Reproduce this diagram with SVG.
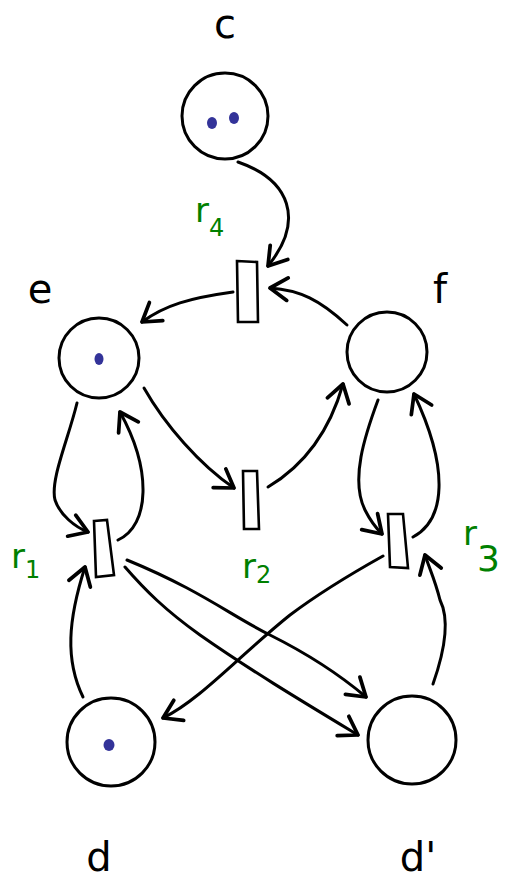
<svg xmlns="http://www.w3.org/2000/svg" width="515" height="879" viewBox="0 0 515 879">
<style>
.place{fill:none;stroke:#000;stroke-width:3}
.trans{fill:none;stroke:#000;stroke-width:2.6}
.tok{fill:#333399}
.arc{fill:none;stroke:#000;stroke-width:3;stroke-linecap:round;marker-end:url(#ah)}
.lbl{font-family:"DejaVu Sans",sans-serif;font-size:40px;fill:#000}
.rl{font-family:"DejaVu Sans",sans-serif;font-size:34px;fill:#008000}
.sub{font-size:24px}
.big{font-size:36px}
</style>
<defs>
<marker id="ah" markerUnits="userSpaceOnUse" markerWidth="30" markerHeight="30" viewBox="-16 -12 20 24" refX="0" refY="0" orient="auto">
<path d="M-14,-9 L0,0 L-14,9" fill="none" stroke="#000" stroke-width="3" stroke-linecap="round" stroke-linejoin="round"/>
</marker>
</defs>
<rect width="515" height="879" fill="#fff"/>
<g id="connectors">
<path class="arc" d="M238,162 C290,180 305,220 268,266"/>
<path class="arc" d="M233,292 C190,298 165,305 142,322"/>
<path class="arc" d="M347,325 C320,300 300,290 270,288"/>
<path class="arc" d="M144,388 C165,425 200,465 234,488"/>
<path class="arc" d="M268,487 C305,465 330,430 343,384"/>
<path class="arc" d="M77,403 C68,440 50,480 55,500 C60,515 75,527 88,532"/>
<path class="arc" d="M118,540 C150,525 152,470 120,412"/>
<path class="arc" d="M378,400 C365,435 350,480 365,510 C370,520 376,528 382,534"/>
<path class="arc" d="M413,537 C445,520 450,470 414,394"/>
<path class="arc" d="M83,697 C65,660 68,620 85,567"/>
<path class="arc" d="M127,560 C200,590 230,615 270,635 C310,655 340,675 366,697"/>
<path class="arc" d="M125,567 C145,590 165,610 200,635 C250,670 300,700 358,735"/>
<path class="arc" d="M383,556 C340,580 310,600 290,615 C240,655 200,700 163,718"/>
<path class="arc" d="M433,684 C445,650 450,620 440,600 C435,580 430,570 425,555"/>
</g>
<g id="c">
<circle class="place" cx="225" cy="116" r="43"/>
<ellipse class="tok" cx="212" cy="123" rx="5" ry="6"/>
<ellipse class="tok" cx="234" cy="118" rx="5" ry="6"/>
<text class="lbl" x="225" y="38" text-anchor="middle" font-size="36">c</text>
</g>
<g id="e">
<circle class="place" cx="99" cy="358" r="40"/>
<ellipse class="tok" cx="99" cy="359" rx="4.5" ry="6"/>
<text class="lbl" x="40" y="303" text-anchor="middle">e</text>
</g>
<g id="f">
<circle class="place" cx="387" cy="352" r="40"/>
<text class="lbl" x="440" y="303" text-anchor="middle">f</text>
</g>
<g id="d">
<circle class="place" cx="111" cy="742" r="44"/>
<ellipse class="tok" cx="109" cy="745" rx="5.5" ry="6"/>
<text class="lbl" x="99" y="871" text-anchor="middle">d</text>
</g>
<g id="dprime">
<circle class="place" cx="412" cy="740" r="44"/>
<text class="lbl" x="418" y="871" text-anchor="middle">d'</text>
</g>
<g id="r4">
<path class="trans" d="M237,261 L257,262 L258,322 L238,322 Z"/>
<text class="rl" x="195" y="222">r<tspan class="sub" dy="14">4</tspan></text>
</g>
<g id="r2">
<path class="trans" d="M243,471 L257,471 L259,529 L244,529 Z"/>
<text class="rl" x="242" y="578">r<tspan class="sub" dy="5">2</tspan></text>
</g>
<g id="r1">
<path class="trans" d="M94,521 L107,520 L114,575 L96,577 Z"/>
<text class="rl" x="11" y="568">r<tspan class="sub" dy="10">1</tspan></text>
</g>
<g id="r3">
<path class="trans" d="M388,514 L403,514 L408,568 L390,567 Z"/>
<text class="rl" x="463" y="545">r<tspan class="big" dy="26">3</tspan></text>
</g>
</svg>
